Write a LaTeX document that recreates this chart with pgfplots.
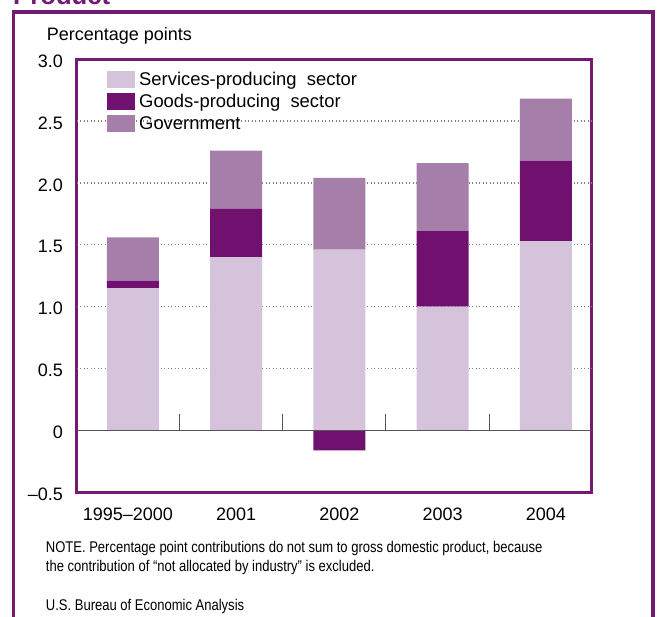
\documentclass[border=0pt]{standalone}
\usepackage{pgfplots}
\pgfplotsset{compat=1.18}
\usepackage{pgfplotstable}
\usepackage{fontspec}
\setmainfont{Liberation Sans}
\newfontfamily\narrowfont[FakeStretch=0.84]{Liberation Sans}
\definecolor{serv}{HTML}{D5C3DB}
\definecolor{goods}{HTML}{701170}
\definecolor{gov}{HTML}{A67EAA}
\definecolor{framec}{HTML}{731A73}
\definecolor{tickgray}{HTML}{555555}
\definecolor{gridc}{HTML}{808080}
\pgfplotsset{swatch/.style={legend image code/.code={\fill[##1] (0pt,-6.7pt) rectangle (28pt,10.3pt);}}}

\pgfplotstableread{
x serv goods gov
0 1.15 0.06 0.35
1 1.40 0.39 0.47
2 1.46 -0.16 0.58
3 1.00 0.61 0.55
4 1.53 0.65 0.50
}\datatable

\begin{document}
\begin{tikzpicture}[x=1pt,y=1pt]
\begin{axis}[
  at={(76.5pt,-492.5pt)}, anchor=south west,
  scale only axis, width=515.2pt, height=433.5pt,
  xmin=-0.547, xmax=4.443, ymin=-0.5, ymax=3,
  ybar stacked, stack negative=separate, bar width=52pt,
  axis line style={draw=framec, line width=3pt},
  font=\fontsize{18}{21.6}\selectfont,
  xtick={0,1,2,3,4}, xticklabels={1995–2000\kern10pt,2001,2002,2003,2004},
  major x tick style={draw=none},
  xtick pos=bottom, tick align=inside,
  xticklabel style={inner sep=0pt, yshift=-15pt, anchor=north},
  extra x ticks={0.45,1.45,2.45,3.45}, extra x tick labels={},
  extra x tick style={major tick length=17pt, major tick style={draw=tickgray, line width=1pt}},
  ytick={-0.5,0,0.5,1,1.5,2,2.5,3},
  yticklabels={–0.5,0,0.5,1.0,1.5,2.0,2.5,3.0},
  major y tick style={draw=none},
  yticklabel style={inner sep=0pt, xshift=-13.5pt, yshift=-2pt, anchor=east},
  extra y ticks={0.5,1,1.5,2,2.5}, extra y tick labels={},
  extra y tick style={ymajorgrids=true, major tick length=0pt,
     major grid style={draw=gridc, line width=1.3pt, dash pattern=on 1.3pt off 2.2pt}},
  legend style={at={(0,1)}, anchor=north west, xshift=30.5pt, yshift=-12pt,
     draw=none, fill=none, inner sep=0pt, row sep=3pt, column sep=4pt,
     font=\fontsize{18.4}{22}\selectfont,
     nodes={inner sep=0pt, text height=13pt, text depth=4.5pt}},
  legend cell align=left,
]
\draw[tickgray, line width=1pt] (axis cs:-0.547,0) -- (axis cs:4.443,0);
\draw[tickgray, line width=1pt] (axis cs:0.45,0) -- ++(0pt,17pt);
\draw[tickgray, line width=1pt] (axis cs:1.45,0) -- ++(0pt,17pt);
\draw[tickgray, line width=1pt] (axis cs:2.45,0) -- ++(0pt,17pt);
\draw[tickgray, line width=1pt] (axis cs:3.45,0) -- ++(0pt,17pt);
\addplot[fill=serv, draw=none, swatch] table[x=x, y=serv] {\datatable};
\addlegendentry{Services-producing~ sector}
\addplot[fill=goods, draw=none, swatch] table[x=x, y=goods] {\datatable};
\addlegendentry{Goods-producing~ sector}
\addplot[fill=gov, draw=none, swatch] table[x=x, y=gov] {\datatable};
\addlegendentry{Government}
\end{axis}
\draw[framec, line width=3.5pt] (13.3,-640) -- (13.3,-12) -- (653,-12) -- (653,-640);
\node[anchor=base west, inner sep=0pt, text=framec, font=\fontsize{25.7}{30}\selectfont\bfseries] at (13,-4) {Product};
\node[anchor=base west, inner sep=0pt, font=\fontsize{18}{21.6}\selectfont] at (46.7,-40.7) {Percentage points};
\node[anchor=base west, inner sep=0pt, font=\narrowfont\fontsize{15.5}{19}\selectfont] at (45.7,-552.7) {NOTE. Percentage point contributions do not sum to gross domestic product, because};
\node[anchor=base west, inner sep=0pt, font=\narrowfont\fontsize{15.5}{19}\selectfont] at (45.7,-571.7) {the contribution of “not allocated by industry” is excluded.};
\node[anchor=base west, inner sep=0pt, font=\narrowfont\fontsize{15.5}{19}\selectfont] at (45.7,-610) {U.S. Bureau of Economic Analysis};
\pgfresetboundingbox
\path[use as bounding box] (0,0) rectangle (658,-616);
\end{tikzpicture}
\end{document}
